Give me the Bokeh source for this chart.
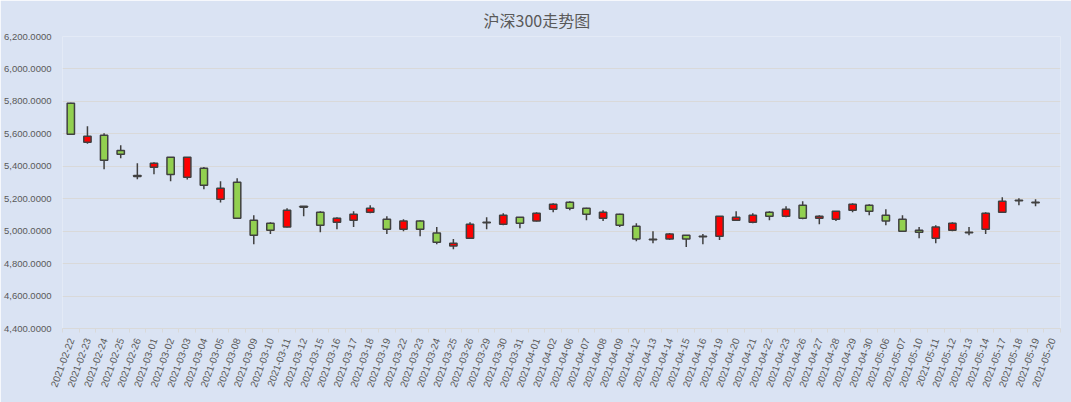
from bokeh.plotting import figure
from bokeh.models import (ColumnDataSource, Range1d, LinearAxis,
                          FixedTicker, SingleIntervalTicker, NumeralTickFormatter)
from bokeh.embed import file_html
from bokeh.resources import INLINE

dates = ["2021-02-22", "2021-02-23", "2021-02-24", "2021-02-25", "2021-02-26",
         "2021-03-01", "2021-03-02", "2021-03-03", "2021-03-04", "2021-03-05",
         "2021-03-08", "2021-03-09", "2021-03-10", "2021-03-11", "2021-03-12",
         "2021-03-15", "2021-03-16", "2021-03-17", "2021-03-18", "2021-03-19",
         "2021-03-22", "2021-03-23", "2021-03-24", "2021-03-25", "2021-03-26",
         "2021-03-29", "2021-03-30", "2021-03-31", "2021-04-01", "2021-04-02",
         "2021-04-06", "2021-04-07", "2021-04-08", "2021-04-09", "2021-04-12",
         "2021-04-13", "2021-04-14", "2021-04-15", "2021-04-16", "2021-04-19",
         "2021-04-20", "2021-04-21", "2021-04-22", "2021-04-23", "2021-04-26",
         "2021-04-27", "2021-04-28", "2021-04-29", "2021-04-30", "2021-05-06",
         "2021-05-07", "2021-05-10", "2021-05-11", "2021-05-12", "2021-05-13",
         "2021-05-14", "2021-05-17", "2021-05-18", "2021-05-19", "2021-05-20"]

opens = [5788, 5548, 5591, 5498, 5343, 5394, 5455, 5332, 5388, 5197,
         5301, 5068, 5049, 5025, 5153, 5117, 5055, 5068, 5117, 5074,
         5012, 5062, 4988, 4908, 4957, 5052, 5043, 5086, 5062, 5135,
         5178, 5142, 5080, 5105, 5031, 4947, 4951, 4975, 4965, 4969,
         5068, 5055, 5117, 5092, 5160, 5080, 5074, 5129, 5160, 5098,
         5074, 5006, 4957, 5006, 4990, 5012, 5117, 5188, 5178]
closes = [5597, 5585, 5437, 5474, 5337, 5418, 5349, 5455, 5283, 5265,
          5080, 4975, 5006, 5129, 5148, 5037, 5080, 5105, 5142, 5012,
          5062, 5012, 4932, 4926, 5043, 5055, 5098, 5049, 5111, 5166,
          5142, 5105, 5117, 5037, 4951, 4950, 4982, 4951, 4968, 5092,
          5086, 5098, 5092, 5135, 5080, 5092, 5123, 5166, 5123, 5062,
          5000, 4994, 5025, 5049, 4993, 5111, 5185, 5190, 5175]
highs = [5792, 5646, 5603, 5529, 5418, 5425, 5457, 5457, 5396, 5308,
         5326, 5098, 5055, 5142, 5155, 5123, 5086, 5123, 5160, 5092,
         5074, 5068, 5025, 4951, 5055, 5086, 5111, 5088, 5117, 5172,
         5185, 5144, 5129, 5107, 5049, 5000, 4988, 4977, 4982, 5094,
         5123, 5111, 5123, 5154, 5185, 5098, 5125, 5172, 5166, 5135,
         5098, 5025, 5037, 5055, 5025, 5117, 5209, 5203, 5197]
lows = [5595, 5539, 5381, 5449, 5320, 5351, 5308, 5318, 5258, 5176,
        5078, 4920, 4982, 5023, 5092, 4994, 5012, 5025, 5111, 4982,
        5000, 4969, 4920, 4889, 4955, 5012, 5037, 5018, 5060, 5117,
        5129, 5068, 5062, 5025, 4938, 4926, 4945, 4902, 4920, 4945,
        5062, 5049, 5068, 5086, 5074, 5043, 5062, 5117, 5098, 5037,
        4998, 4957, 4926, 5000, 4975, 4982, 5115, 5160, 5154]

title_text = "沪深300走势图"
y_min, y_max, y_step = 4400, 6200, 200

BG = "#DAE3F3"
GRID = "#D9D9D9"
TXT = "#595959"
UP = "#FF0000"
DOWN = "#92D050"
EDGE = "#404040"

ncat = len(dates)
centers = [i + 0.5 for i in range(ncat)]
bounds = list(range(ncat + 1))
n = len(opens)
src = ColumnDataSource(dict(
    x=centers[:n],
    top=[max(o, c) for o, c in zip(opens, closes)],
    bottom=[min(o, c) for o, c in zip(opens, closes)],
    high=highs,
    low=lows,
    color=[UP if c > o else DOWN for o, c in zip(opens, closes)],
))

p = figure(width=1071, height=402, output_backend="svg", toolbar_location=None,
           x_range=Range1d(0, ncat), y_range=Range1d(y_min, y_max),
           x_axis_location=None, y_axis_location=None,
           min_border_left=60, min_border_right=11, min_border_top=35, min_border_bottom=74)
p.background_fill_color = BG
p.border_fill_color = BG
p.outline_line_color = None

p.title.text = title_text
p.title.align = "left"
p.title.offset = 421
p.title.text_font = "Noto Sans CJK SC"
p.title.text_font_size = "16px"
p.title.text_font_style = "normal"
p.title.text_color = TXT

# date labels at category centres, tick marks at category boundaries
xaxis = LinearAxis(ticker=FixedTicker(ticks=centers, minor_ticks=bounds),
                   major_label_overrides={c: d for c, d in zip(centers, dates)})
xaxis.axis_line_color = GRID
xaxis.major_tick_line_color = None
xaxis.major_tick_out = 0
xaxis.major_tick_in = 0
xaxis.minor_tick_line_color = GRID
xaxis.minor_tick_out = 4
xaxis.minor_tick_in = 0
xaxis.major_label_orientation = 1.22
xaxis.major_label_text_font = "Liberation Sans"
xaxis.major_label_text_font_size = "10px"
xaxis.major_label_text_color = TXT
xaxis.major_label_standoff = 6
p.add_layout(xaxis, "below")

yaxis = LinearAxis(ticker=SingleIntervalTicker(interval=y_step),
                   formatter=NumeralTickFormatter(format="0,0.0000"))
yaxis.axis_line_color = None
yaxis.major_tick_line_color = None
yaxis.minor_tick_line_color = None
yaxis.major_tick_out = 0
yaxis.major_tick_in = 0
yaxis.major_label_text_font = "Liberation Sans"
yaxis.major_label_text_font_size = "9.5px"
yaxis.major_label_text_color = TXT
yaxis.major_label_standoff = 7
p.add_layout(yaxis, "left")

p.xgrid.grid_line_color = None
p.ygrid.grid_line_color = GRID
p.ygrid.ticker = SingleIntervalTicker(interval=y_step)

p.segment(x0="x", y0="high", x1="x", y1="low", source=src, line_color=EDGE, line_width=1.5)
p.vbar(x="x", top="top", bottom="bottom", width=0.44, source=src,
       fill_color="color", line_color=EDGE, line_width=1.5)

open("out.html", "w").write(file_html(p, INLINE))
